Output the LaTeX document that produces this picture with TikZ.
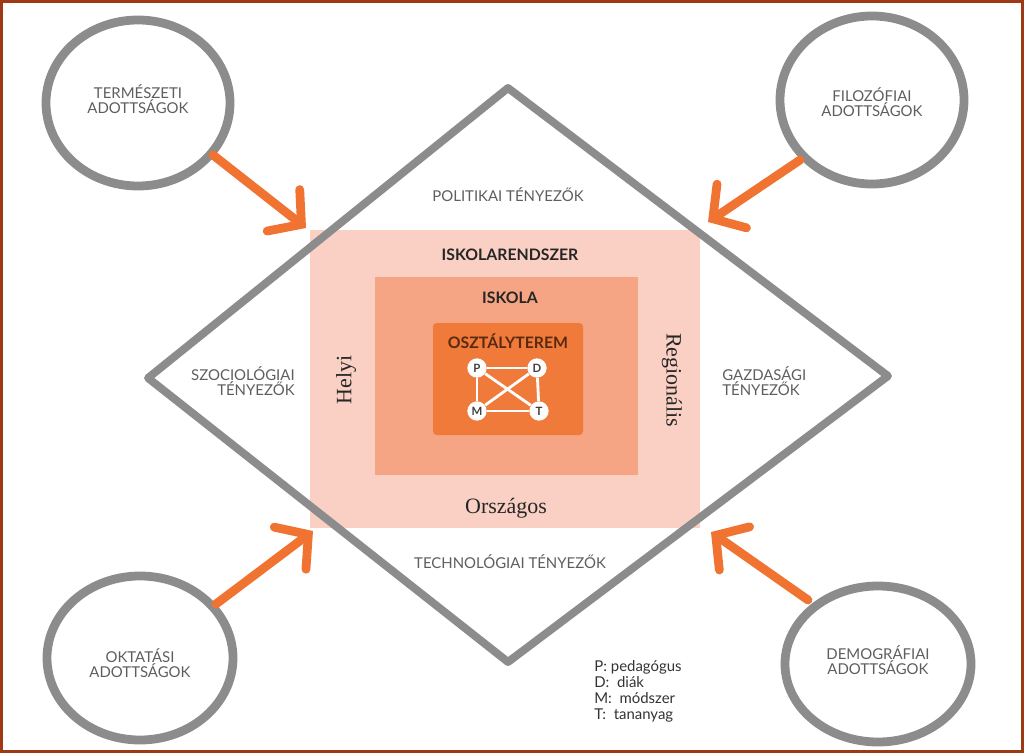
\documentclass[tikz,border=0pt]{standalone}
\usepackage{fontspec}
\setmainfont{Liberation Serif}
\newfontfamily\capsfont{Lato}
\usetikzlibrary{arrows.meta}
\definecolor{framered}{HTML}{9E3A12}
\definecolor{ringgray}{HTML}{8C8C8C}
\definecolor{labelgray}{HTML}{5E5E5E}
\definecolor{feedorange}{HTML}{F07332}
\definecolor{levelone}{HTML}{F9D0C3}
\definecolor{leveltwo}{HTML}{F5A583}
\definecolor{levelthree}{HTML}{EF7A3A}
\definecolor{roombrown}{HTML}{5A2A10}
\begin{document}
\begin{tikzpicture}[x=0.02cm, y=-0.02cm,
  ring/.style={draw=ringgray, line width=5pt},
  factor/.style={font=\capsfont\fontsize{8.5}{8.8}\selectfont, text=labelgray, inner sep=0pt},
  feed/.style={draw=feedorange, line width=5pt, line cap=round,
    -{Straight Barb[length=13pt, width=30pt, line cap=round]}},
  level/.style={font=\capsfont\bfseries\fontsize{9}{10}\selectfont, text=black!85, inner sep=0pt},
  place/.style={font=\fontsize{12.5}{14}\selectfont, text=black!85, inner sep=0pt},
  actor/.style={circle, fill=white, minimum size=11pt, inner sep=0pt,
    font=\capsfont\bfseries\fontsize{6.5}{7}\selectfont, text=black!75}]
\useasboundingbox (0,0) rectangle (1024,753);
\fill[white] (0,0) rectangle (1024,753);
\draw[framered, line width=1.6pt] (1.5,1.5) rectangle (1022.5,751.5);

% nested levels
\fill[levelone] (310,230) rectangle (700,528);
\fill[leveltwo] (375,277) rectangle (638,475);
\fill[levelthree, rounded corners=2pt] (433,323) rectangle (583,435);

% frame of factors
\node[inner sep=0pt] (top) at (508,88){};
\node[inner sep=0pt] (right) at (888,376){};
\node[inner sep=0pt] (bottom) at (508,662){};
\node[inner sep=0pt] (left) at (148,378){};
\draw[ringgray, line width=4.5pt, line join=round] (top.center) -- (right.center) -- (bottom.center) -- (left.center) -- cycle;

% given conditions
\draw[ring] (138,103) ellipse (92 and 83);
\draw[ring] (872,100) ellipse (92 and 84);
\draw[ring] (140,658) ellipse (93 and 82);
\draw[ring] (878,664) ellipse (93 and 78);
\node[factor, align=center] (nat) at (138,99){TERMÉSZETI\\ADOTTSÁGOK};
\node[factor, align=center] (phil) at (872,102){FILOZÓFIAI\\ADOTTSÁGOK};
\node[factor, align=center] (edu) at (140,663){OKTATÁSI\\ADOTTSÁGOK};
\node[factor, align=center] (demo) at (878,660){DEMOGRÁFIAI\\ADOTTSÁGOK};

% arrows
\coordinate (natout) at (213,155);
\coordinate (natin) at (306,228);
\coordinate (philout) at (800,160);
\coordinate (philin) at (708,222);
\coordinate (eduout) at (216,604);
\coordinate (eduin) at (313,531);
\coordinate (demoout) at (808,600);
\coordinate (demoin) at (711,532);
\draw[feed] (natout) -- (natin);
\draw[feed] (philout) -- (philin);
\draw[feed] (eduout) -- (eduin);
\draw[feed] (demoout) -- (demoin);

% factors
\node[factor] (pol) at (508,195){POLITIKAI TÉNYEZŐK};
\node[factor, align=right, anchor=east] (soc) at (295,381){SZOCIOLÓGIAI\\TÉNYEZŐK};
\node[factor, align=left, anchor=west] (eco) at (722,381){GAZDASÁGI\\TÉNYEZŐK};
\node[factor] (tech) at (510,562){TECHNOLÓGIAI TÉNYEZŐK};

% levels
\node[level] (system) at (510,255){ISKOLARENDSZER};
\node[level] (school) at (510,298){ISKOLA};
\node[level, text=roombrown] (room) at (508,341){OSZTÁLYTEREM};
\node[place] (nat2) at (506,508){Országos};
\node[place, rotate=90] (local) at (346,380){Helyi};
\node[place, rotate=-90] (region) at (672,380){Regionális};

% classroom actors
\node[actor] (P) at (477,368){P};
\node[actor] (D) at (537,368){D};
\node[actor] (M) at (477,411){M};
\node[actor] (T) at (539,411){T};
\draw[white, line width=1.6pt] (P) -- (D);
\draw[white, line width=1.6pt] (P) -- (M);
\draw[white, line width=1.6pt] (D) -- (T);
\draw[white, line width=1.6pt] (M) -- (T);
\draw[white, line width=1.6pt] (P) -- (T);
\draw[white, line width=1.6pt] (D) -- (M);

% legend
\node[anchor=north west, align=left, inner sep=0pt, font=\capsfont\fontsize{8.5}{9.2}\selectfont, text=black!80] (key) at (594,660){P: pedagógus\\D:\ \ diák\\M:\ \ módszer\\T:\ \ tananyag};
\end{tikzpicture}
\end{document}
